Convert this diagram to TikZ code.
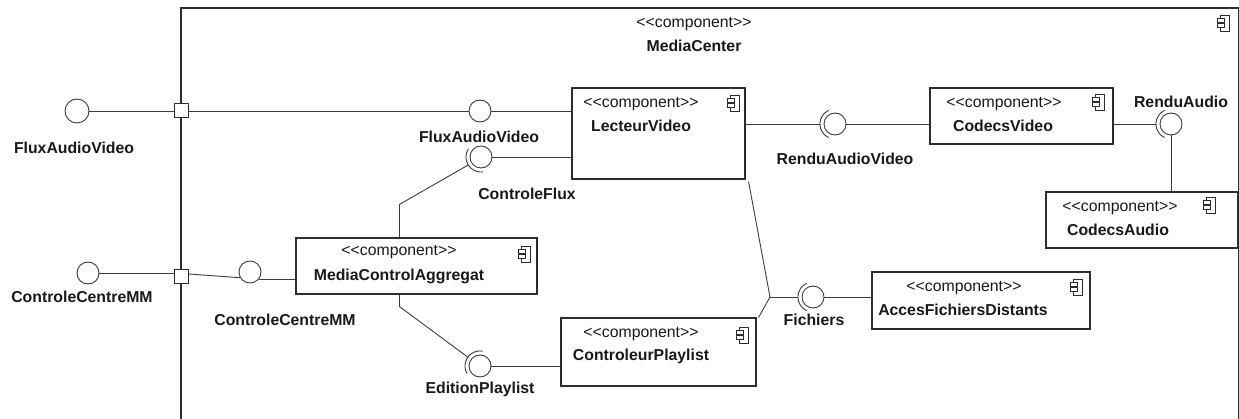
\documentclass[tikz,border=0pt]{standalone}
\usepackage{fontspec}
\setmainfont{Liberation Sans}
\usetikzlibrary{calc}
\definecolor{lc}{RGB}{60,60,60}
\definecolor{bc}{RGB}{45,45,45}
\definecolor{tc}{RGB}{25,25,25}
\newcommand{\stereo}{<\kern0pt<component>\kern0pt>}
\begin{document}
\begin{tikzpicture}[x=1pt,y=-1pt,
  line/.style={draw=lc, line width=0.9pt},
  comp/.style={rectangle, draw=bc, line width=1.1pt, fill=white, inner sep=0pt},
  ball/.style={circle, draw=lc, line width=0.9pt, fill=white, minimum size=22pt, inner sep=0pt},
  port/.style={rectangle, draw=bc, line width=1pt, fill=white, minimum size=14pt, inner sep=0pt},
  sttext/.style={font=\fontsize{15.8}{18}\selectfont, text=tc, inner sep=0pt},
  nmtext/.style={font=\fontsize{15.8}{18}\selectfont\bfseries, text=tc, inner sep=0pt},
  compicon/.pic={
    \draw[bc, line width=0.9pt, fill=white] (-2.5,-8) rectangle (6,8);
    \draw[bc, line width=0.9pt, fill=white] (-6,-4.5) rectangle (1,-0.8);
    \draw[bc, line width=0.9pt, fill=white] (-6,0.8) rectangle (1,4.5);
  }]
\useasboundingbox (0,0) rectangle (1239,419);
\clip (0,0) rectangle (1239,419);
\fill[white] (0,0) rectangle (1239,419);

% outer component MediaCenter
\draw[bc, line width=1.1pt] (181,440) -- (181,8) -- (1238.5,8) -- (1238.5,440);
\node[sttext] (mcst) at (694,24) {\stereo};
\node[nmtext] (mcnm) at (694,46) {MediaCenter};
\pic at (1223,23) {compicon};

% inner components
\node[comp, minimum width=173pt, minimum height=91pt] (lv) at (658.5,133.5) {};
\node[comp, minimum width=183pt, minimum height=56pt] (cv) at (1021.5,116) {};
\node[comp, minimum width=192pt, minimum height=56pt] (ca) at (1142,220) {};
\node[comp, minimum width=241pt, minimum height=56pt] (mca) at (416.5,266) {};
\node[comp, minimum width=195pt, minimum height=68pt] (cp) at (658.5,352) {};
\node[comp, minimum width=218pt, minimum height=57pt] (afd) at (981,300.5) {};

\node[sttext] (lvst) at (641,104) {\stereo};
\node[nmtext] (lvnm) at (641,126) {LecteurVideo};
\pic at (733,103) {compicon};
\node[sttext] (cvst) at (1004,104) {\stereo};
\node[nmtext] (cvnm) at (1003,126) {CodecsVideo};
\pic at (1098,102) {compicon};
\node[sttext] (cast) at (1120,208) {\stereo};
\node[nmtext] (canm) at (1118,230) {CodecsAudio};
\pic at (1209,205) {compicon};
\node[sttext] (mcast) at (399,252) {\stereo};
\node[nmtext] (mcanm) at (399,276) {MediaControlAggregat};
\pic at (524,254) {compicon};
\node[sttext] (cpst) at (641,334) {\stereo};
\node[nmtext] (cpnm) at (641,356) {ControleurPlaylist};
\pic at (742,335) {compicon};
\node[sttext] (afdst) at (964,288) {\stereo};
\node[nmtext] (afdnm) at (963,310) {AccesFichiersDistants};
\pic at (1076,287) {compicon};

% ports
\node[port] (p1) at (181,111) {};
\node[port] (p2) at (181,277) {};

% balls
\node[ball, minimum size=24pt] (ofav) at (77,111) {};
\node[ball] (occm) at (88,273) {};
\node[ball] (iccm) at (250,272) {};
\node[ball] (ifav) at (480,111) {};
\node[ball] (cf) at (481,157) {};
\node[ball] (rav) at (835,124) {};
\node[ball] (ra) at (1171,124) {};
\node[ball] (fi) at (813,297) {};
\node[ball] (ep) at (480,366) {};

% sockets
\begin{scope}[shift={(cf)}]
  \draw[line] plot[domain=83:213, samples=30] (\x:15);
  \coordinate (cfs) at (148:15);
\end{scope}
\begin{scope}[shift={(rav)}]
  \draw[line] plot[domain=115:245, samples=30] (\x:15);
  \coordinate (ravs) at (180:15);
\end{scope}
\begin{scope}[shift={(ra)}]
  \draw[line] plot[domain=115:245, samples=30] (\x:15);
  \coordinate (ras) at (180:15);
\end{scope}
\begin{scope}[shift={(fi)}]
  \draw[line] plot[domain=115:245, samples=30] (\x:15);
  \coordinate (fis) at (180:15);
\end{scope}
\begin{scope}[shift={(ep)}]
  \draw[line] plot[domain=150:280, samples=30] (\x:15);
  \coordinate (eps) at (216:15);
\end{scope}

% connectors
\draw[line] (ofav.east) -- (p1.west);
\draw[line] (p1.east) -- (ifav.west);
\draw[line] (ifav.east) -- (ifav.east -| lv.west);
\draw[line] (cf.east) -- (cf.east -| lv.west);
\draw[line] ([xshift=104pt]mca.north west) -- ++(0,-33) -- (cfs);
\draw[line] ([xshift=104pt]mca.south west) -- ++(0,12) -- (eps);
\draw[line] (ep.east) -- (ep.east -| cp.west);
\draw[line] (occm.east) -- (occm.east -| p2.west);
\draw[line] ([yshift=3pt]p2.east) -- (iccm.-150);
\draw[line] (iccm.-40) -- (iccm.-40 -| mca.west);
\draw[line] (ravs -| lv.east) -- (ravs);
\draw[line] (rav.east) -- (rav.east -| cv.west);
\draw[line] (ras -| cv.east) -- (ras);
\draw[line] (ra.south) -- (ra.south |- ca.north);
\coordinate (j) at (770,297);
\draw[line] ([xshift=3pt,yshift=-2pt]lv.south east) -- (j) -- ([xshift=2pt]cp.north east);
\draw[line] (j) -- (fis);
\draw[line] (fi.east) -- (fi.east -| afd.west);

% interface labels
\node[nmtext] (lofav) at (74,148) {FluxAudioVideo};
\node[nmtext] (loccm) at (82,297) {ControleCentreMM};
\node[nmtext] (liccm) at (285,320) {ControleCentreMM};
\node[nmtext] (lifav) at (479,137) {FluxAudioVideo};
\node[nmtext] (lcf) at (527,194) {ControleFlux};
\node[nmtext] (lrav) at (845,159) {RenduAudioVideo};
\node[nmtext] (lra) at (1181,102) {RenduAudio};
\node[nmtext] (lfi) at (814,320) {Fichiers};
\node[nmtext] (lep) at (480,389) {EditionPlaylist};
\end{tikzpicture}
\end{document}
